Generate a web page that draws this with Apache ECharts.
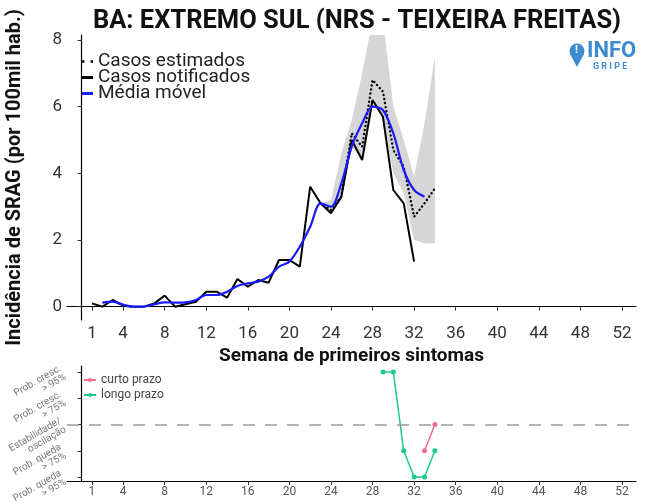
<!DOCTYPE html>
<html><head><meta charset="utf-8">
<script src="https://cdn.jsdelivr.net/npm/echarts@6/dist/echarts.min.js"></script>
<style>html,body{margin:0;padding:0;background:#fff}#c{width:646px;height:504px}</style>
</head><body><div id="c"></div>
<script>
// ---- data ----
const title = 'BA: EXTREMO SUL (NRS - TEIXEIRA FREITAS)';
const weeks = [1,2,3,4,5,6,7,8,9,10,11,12,13,14,15,16,17,18,19,20,21,22,23,24,25,26,27,28,29,30,31,32,33,34];
const xTicks = [1,4,8,12,16,20,24,28,32,36,40,44,48,52];
const yTicks = [0,2,4,6,8];
const notified = [0.1,0.0,0.2,0.03,0.0,0.0,0.1,0.33,0.0,0.07,0.15,0.45,0.45,0.27,0.83,0.6,0.8,0.72,1.4,1.4,1.2,3.6,3.1,2.8,3.3,5.0,4.4,6.2,5.7,3.5,3.1,1.35];
const movingAvg = [null,0.12,0.15,0.06,0.0,0.0,0.07,0.13,0.12,0.13,0.2,0.35,0.35,0.45,0.62,0.7,0.75,0.9,1.2,1.35,1.8,2.4,3.1,3.0,3.7,4.8,5.5,6.0,5.9,5.2,4.1,3.5,3.3];
const estWeeks = [23,24,25,26,27,28,29,30,31,32,33,34];
const estimated = [3.1,2.9,3.3,5.2,4.8,6.8,6.45,4.7,4.2,2.7,3.1,3.55];
const estLower  = [3.1,2.8,3.2,4.8,4.4,6.2,5.7,4.0,3.4,2.0,1.9,1.9];
const estUpper  = [3.1,3.2,4.6,5.6,7.0,8.6,8.6,6.0,5.0,3.9,5.5,7.5];
const trendWeeksLong = [29,30,31,32,33,34];
const trendLong = [5,5,2,1,1,2];
const trendWeeksShort = [33,34];
const trendShort = [2,3];
const trendLabels = {1:'Prob. queda\n> 95%',2:'Prob. queda\n> 75%',3:'Estabilidade/\noscilação',4:'Prob. cresc.\n> 75%',5:'Prob. cresc.\n> 95%'};

// ---- chart ----
const pairs = (xs, ys) => ys.map((v,i)=>[xs[i], v]);
const chart = echarts.init(document.getElementById('c'), null, {renderer:'canvas'});
const FONT = 'Roboto';
const axisLine = {show:true, lineStyle:{color:'#000', width:1.2}};
const baseX = {
  type:'value', min:-1.4, max:53.35,
  axisLine, splitLine:{show:false},
  axisTick:{show:true, customValues:xTicks, length:4, lineStyle:{color:'#333'}},
};
const bandData = estWeeks.map((w,i)=>[w, estLower[i], estUpper[i]]);
const option = {
  backgroundColor:'#fff',
  animation:false,
  textStyle:{fontFamily:FONT},
  title:{text:title, left:352, textAlign:'center', top:4,
    textStyle:{fontFamily:FONT, fontWeight:'bold', fontSize:25.5, color:'#111'}},
  grid:[
    {left:67, right:10, top:35, bottom:184, outerBoundsMode:'none', containLabel:false},
    {left:67, right:10, top:366, bottom:23, outerBoundsMode:'none', containLabel:false}
  ],
  xAxis:[
    Object.assign({}, baseX, {gridIndex:0,
      axisLabel:{customValues:xTicks, fontSize:17, color:'#333', margin:5, fontFamily:FONT},
      name:'Semana de primeiros sintomas', nameLocation:'middle', nameGap:22,
      nameTextStyle:{fontSize:19, fontWeight:'bold', color:'#111', fontFamily:FONT}}),
    Object.assign({}, baseX, {gridIndex:1,
      axisLabel:{customValues:xTicks, fontSize:12, color:'#555', margin:5, fontFamily:FONT}})
  ],
  yAxis:[
    {type:'value', gridIndex:0, min:-0.4, max:8.15, axisLine, splitLine:{show:false},
     axisTick:{show:true, customValues:yTicks, length:4, lineStyle:{color:'#333'}},
     axisLabel:{customValues:yTicks, fontSize:17, color:'#333', margin:5, fontFamily:FONT},
     name:'Incidência de SRAG (por 100mil hab.)', nameLocation:'middle', nameGap:42, nameRotate:90,
     nameTextStyle:{fontSize:20, fontWeight:'bold', color:'#111', fontFamily:FONT}},
    {type:'value', gridIndex:1, min:0.85, max:5.23, axisLine, splitLine:{show:false},
     axisTick:{show:true, customValues:[1,2,3,4,5], length:4, lineStyle:{color:'#333'}},
     axisLabel:{customValues:[1,2,3,4,5], rotate:30, fontSize:10, lineHeight:10, color:'#777', margin:4,
       fontFamily:FONT, formatter:v=>trendLabels[v]||''}}
  ],
  legend:[
    {orient:'vertical', left:77, top:47, itemGap:-3, itemWidth:11, itemHeight:3,
     textStyle:{fontSize:19, color:'#222', lineHeight:17, fontFamily:FONT},
     data:[
       {name:'Casos estimados', icon:'path://M0,0h2v2h-2zM7,0h2v2h-2z', itemStyle:{color:'#000'}},
       {name:'Casos notificados', icon:'rect', itemStyle:{color:'#000'}},
       {name:'Média móvel', icon:'rect', itemStyle:{color:'#1a1aff'}}
     ]},
    {orient:'vertical', left:78, top:369, itemGap:3, itemWidth:12, itemHeight:5,
     textStyle:{fontSize:12, color:'#444', fontFamily:FONT},
     data:['curto prazo','longo prazo']}
  ],
  graphic:[
    {type:'polygon', shape:{points:[[570,54],[584,54],[577,67]]}, style:{fill:'#3d8bd0'}},
    {type:'circle', shape:{cx:577, cy:51, r:7.5}, style:{fill:'#3d8bd0'}},
    {type:'text', x:575, y:45, style:{text:'!', fill:'#fff', font:'bold 11px Roboto'}},
    {type:'text', x:587, y:40, style:{text:'INFO', fill:'#3d8bd0', font:'bold 22px Roboto'}},
    {type:'text', x:593, y:62, style:{text:'G R I P E', fill:'#3d8bd0', font:'bold 9px Roboto'}}
  ],
  series:[
    {name:'band', type:'custom', xAxisIndex:0, yAxisIndex:0, silent:true, clip:true, z:1,
     data:bandData,
     renderItem:function(params, api){
       if (params.dataIndex !== 0) return null;
       const top = bandData.map(d=>api.coord([d[0], d[2]]));
       const bot = bandData.map(d=>api.coord([d[0], d[1]])).reverse();
       return {type:'polygon', shape:{points:top.concat(bot)}, style:{fill:'#cfcfcf', opacity:0.85}};
     }},
    {name:'Casos estimados', type:'line', xAxisIndex:0, yAxisIndex:0, symbol:'none',
     lineStyle:{color:'#000', width:2.4, type:[0.1,4], cap:'round'}, itemStyle:{color:'#000'},
     data:pairs(estWeeks, estimated), z:3},
    {name:'Casos notificados', type:'line', xAxisIndex:0, yAxisIndex:0, symbol:'none',
     lineStyle:{color:'#000', width:2}, itemStyle:{color:'#000'},
     data:pairs(weeks, notified), z:4},
    {name:'Média móvel', type:'line', xAxisIndex:0, yAxisIndex:0, symbol:'none', smooth:0.3,
     lineStyle:{color:'#1a1aff', width:2.2}, itemStyle:{color:'#1a1aff'},
     data:pairs(weeks, movingAvg), z:5},
    {name:'longo prazo', type:'line', xAxisIndex:1, yAxisIndex:1, symbol:'circle', symbolSize:5,
     lineStyle:{color:'#1dc98c', width:1.5}, itemStyle:{color:'#1dc98c'},
     data:pairs(trendWeeksLong, trendLong), z:4,
     markLine:{silent:true, symbol:'none', label:{show:false},
       lineStyle:{color:'#999', type:[12,10], width:1.5},
       data:[{yAxis:3}]}},
    {name:'curto prazo', type:'line', xAxisIndex:1, yAxisIndex:1, symbol:'circle', symbolSize:5,
     lineStyle:{color:'#ef6f8a', width:1.5}, itemStyle:{color:'#ef6f8a'},
     data:pairs(trendWeeksShort, trendShort), z:5}
  ]
};
chart.setOption(option);
</script></body></html>
